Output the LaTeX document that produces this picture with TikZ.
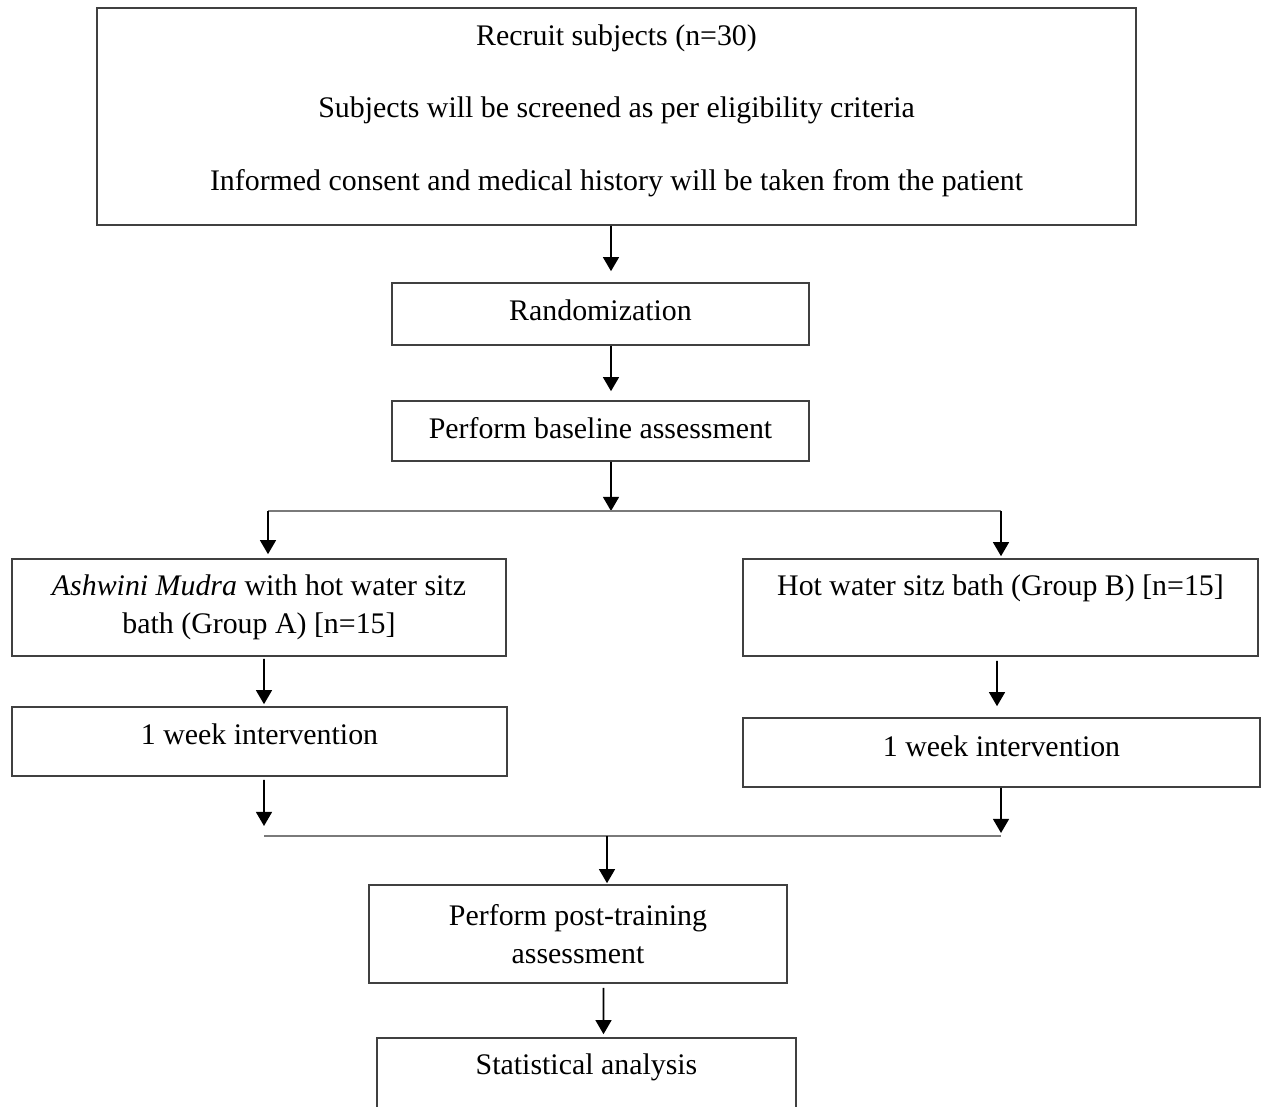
\documentclass[tikz,border=0pt]{standalone}
\usepackage{fontspec}
\setmainfont{Liberation Serif}
\usepackage{tikz}
\usetikzlibrary{arrows.meta,positioning}
\usepackage{xcolor}
\definecolor{BoxLine}{HTML}{404040}
\definecolor{BarLine}{HTML}{7A7A7A}

\begin{document}
\begin{tikzpicture}[every node/.style={font={\fontsize{17}{21.5}\selectfont}},
    box/.style={draw=BoxLine,line width=0.9pt,align=center,inner sep=0pt},
    arr/.style={-{Triangle[width=9pt,length=8pt]},line width=1.1pt,black},
    bar/.style={draw=BarLine,line width=1pt}]
    \useasboundingbox (0,0) rectangle (25.24,-22.12);
    \clip (0,0) rectangle (25.24,-22.12);
    \node[box,minimum width=20.78cm,minimum height=4.34cm] (recruit) at (12.33,-2.33) {Recruit subjects (n=30)\\[0.7cm] Subjects will be screened as per eligibility criteria\\[0.7cm] Informed consent and medical history will be taken from the patient\\[-0.4cm]\mbox{}};
    \node[box,minimum width=8.34cm,minimum height=1.24cm,text height=0.62cm,text depth=0.34cm] (random) at (12.01,-6.28) {Randomization};
    \node[box,minimum width=8.34cm,minimum height=1.2cm,text height=0.62cm,text depth=0.34cm] (baseline) at (12.01,-8.62) {Perform baseline assessment};
    \node[box,minimum width=9.88cm,minimum height=1.94cm] (groupA) at (5.18,-12.15) {\textit{Ashwini Mudra} with hot water sitz\\ bath (Group A) [n=15]};
    \node[box,minimum width=10.3cm,minimum height=1.94cm,text height=0.46cm,text depth=0.94cm] (groupB) at (20.01,-12.15) {Hot water sitz bath (Group B) [n=15]};
    \node[box,minimum width=9.9cm,minimum height=1.38cm,text height=0.57cm,text depth=0.45cm] (weekA) at (5.19,-14.83) {1 week intervention};
    \node[box,minimum width=10.34cm,minimum height=1.38cm,text height=0.59cm,text depth=0.45cm] (weekB) at (20.03,-15.05) {1 week intervention};
    \node[box,minimum width=8.36cm,minimum height=1.96cm] (post) at (11.56,-18.68) {Perform post-training\\ assessment};
    \node[box,minimum width=8.38cm,minimum height=1.96cm,text height=0.46cm,text depth=0.96cm] (stats) at (11.73,-21.74) {Statistical analysis};

    % split and join points
    \coordinate (split) at (12.22,-10.22);
    \coordinate (splitL) at (5.36,-10.22);
    \coordinate (splitR) at (20.02,-10.22);
    \coordinate (join) at (12.14,-16.72);
    \coordinate (joinL) at (5.28,-16.72);
    \coordinate (joinR) at (20.02,-16.72);

    \draw[arr] ([xshift=-1.1mm]recruit.south) -- ([xshift=2.1mm,yshift=2.2mm]random.north);
    \draw[arr] ([xshift=2.1mm]random.south) -- ([xshift=2.1mm,yshift=1.8mm]baseline.north);
    \draw[arr] ([xshift=2.1mm]baseline.south) -- (split);
    \draw[bar] (splitL) -- (splitR);
    \draw[arr] (splitL) -- ([xshift=1.8mm,yshift=0.8mm]groupA.north);
    \draw[arr] (splitR) -- ([xshift=0.1mm,yshift=0.4mm]groupB.north);
    \draw[arr] ([xshift=1mm,yshift=-0.4mm]groupA.south) -- ([xshift=0.9mm,yshift=0.4mm]weekA.north);
    \draw[arr] ([xshift=-0.7mm,yshift=-0.8mm]groupB.south) -- ([xshift=-0.9mm,yshift=2.2mm]weekB.north);
    \draw[arr] ([xshift=0.9mm,yshift=-0.6mm]weekA.south) -- ([yshift=2mm]joinL);
    \draw[arr] ([xshift=-0.1mm]weekB.south) -- ([yshift=0.6mm]joinR);
    \draw[bar] (joinL) -- (joinR);
    \draw[arr] (join) -- ([xshift=5.8mm,yshift=0.2mm]post.north);
    \draw[arr] ([xshift=5.1mm,yshift=-0.8mm]post.south) -- ([xshift=3.4mm,yshift=0.6mm]stats.north);
\end{tikzpicture}
\end{document}
